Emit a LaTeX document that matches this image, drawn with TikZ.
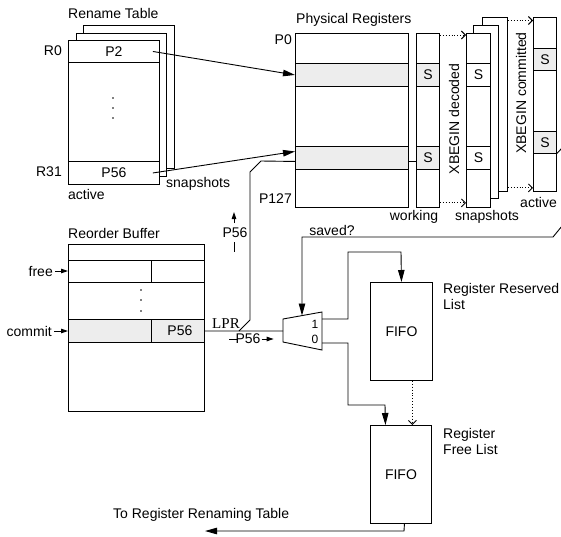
\documentclass[tikz,border=0pt]{standalone}
\usepackage{fontspec}
\setmainfont{Liberation Sans}
\newfontfamily\seriffont{Liberation Serif}
\usetikzlibrary{arrows.meta,calc}
\begin{document}
\begin{tikzpicture}[x=1pt,y=-1pt,
  every node/.style={font=\fontsize{14}{16}\selectfont},
  box/.style={draw, line width=0.9pt, inner sep=0pt, anchor=north west, fill=white},
  shade/.style={box, fill=black!7},
  lbl/.style={inner sep=0pt},
  ln/.style={line width=0.9pt},
  arr/.style={ln, -{Triangle[length=12pt,width=6.5pt]}},
  sarr/.style={ln, -{Triangle[length=7pt,width=4.5pt]}},
  darr/.style={ln, dotted, -{Straight Barb[length=4pt,width=8pt]}},
  dot/.style={circle, fill, inner sep=0pt, minimum size=1.6pt}
]
\useasboundingbox (0,0) rectangle (561,536);

% ---------------- Rename table ----------------
\node[lbl, anchor=west] (rtlbl) at (68,13) {Rename Table};
\node[box, minimum width=91pt, minimum height=143pt] (rt3) at (83,25) {};
\node[box, minimum width=90pt, minimum height=143pt] (rt2) at (76,33) {};
\node[box, minimum width=91pt, minimum height=144pt] (rt) at (68,40) {};
\node[box, minimum width=91pt, minimum height=22pt] (rtP2) at (68,40) {P2};
\node[box, minimum width=91pt, minimum height=23pt] (rtP56) at (68,161) {P56};
\node[dot] (rtd1) at (113,98) {};
\node[dot] (rtd2) at (113,108) {};
\node[dot] (rtd3) at (113,118) {};
\node[lbl, anchor=east] (r0) at (62,51) {R0};
\node[lbl, anchor=east] (r31) at (62,172) {R31};
\node[lbl, anchor=west] (rtact) at (68,194) {active};
\node[lbl, anchor=west] (rtsnap) at (166,184) {snapshots};

% ---------------- Physical registers ----------------
\node[lbl, anchor=west] (prlbl) at (296,20) {Physical Registers};
\node[box, minimum width=113pt, minimum height=174pt] (pr) at (295,33) {};
\node[shade, minimum width=113pt, minimum height=23pt] (prA) at (295,63) {};
\node[shade, minimum width=113pt, minimum height=23pt] (prB) at (295,146) {};
\node[lbl, anchor=east] (p0) at (292,40) {P0};
\node[lbl, anchor=east] (p127) at (292,199) {P127};

\node[box, minimum width=23pt, minimum height=174pt] (wk) at (416,33) {};
\node[shade, minimum width=23pt, minimum height=23pt] (wkA) at (416,63) {S};
\node[shade, minimum width=23pt, minimum height=23pt] (wkB) at (416,146) {S};
\node[lbl] (wklbl) at (414,217) {working};

\node[box, minimum width=25pt, minimum height=174pt] (ss3) at (482,17) {};
\node[box, minimum width=25pt, minimum height=173pt] (ss2) at (473,25) {};
\node[box, minimum width=24pt, minimum height=174pt] (ss) at (466,33) {};
\node[box, minimum width=24pt, minimum height=23pt] (ssA) at (466,63) {S};
\node[box, minimum width=24pt, minimum height=23pt] (ssB) at (466,146) {S};
\node[lbl] (sslbl) at (487,217) {snapshots};
\node[lbl, rotate=90] (xdec) at (454,119) {XBEGIN decoded};

\node[box, minimum width=23pt, minimum height=174pt] (ac) at (533,17) {};
\node[shade, minimum width=23pt, minimum height=22pt] (acA) at (533,48) {S};
\node[shade, minimum width=23pt, minimum height=22pt] (acB) at (533,131) {S};
\node[lbl, anchor=east] (aclbl) at (557,202) {active};
\node[lbl, rotate=90] (xcom) at (521,93) {XBEGIN committed};

% dotted snapshot arrows
\coordinate (wkT) at ([yshift=-2pt]wk.north east);
\coordinate (wkBt) at ([yshift=5pt]wk.south east);
\coordinate (ss3T) at ([yshift=-3.5pt]ss3.north east);
\coordinate (ss3B) at ([yshift=4pt]ss3.south east);
\draw[darr] (wkT) -- (wkT -| ss.west);
\draw[darr] (wkBt) -- (wkBt -| ss.west);
\draw[darr] (ss3T) -- (ss3T -| ac.west);
\draw[darr] (ss3B) -- (ss3B -| ac.west);

% rename -> physical
\draw[arr] ([xshift=-7pt]rtP2.east) -- (prA.west);
\draw[arr] ([xshift=-7pt]rtP56.east) -- ([yshift=6.5pt]prB.west);

% ---------------- Reorder buffer ----------------
\node[lbl, anchor=west] (roblbl) at (68,233) {Reorder Buffer};
\node[box, minimum width=136pt, minimum height=167pt] (rob) at (68,244) {};
\node[box, minimum width=83pt, minimum height=22pt] (robFL) at (68,260) {};
\node[box, minimum width=53pt, minimum height=22pt] (robFR) at (151,260) {};
\node[shade, minimum width=83pt, minimum height=23pt] (robCL) at (68,319) {};
\node[shade, minimum width=53pt, minimum height=23pt] (robCR) at (151,319) {\hspace*{4pt}P56};
\node[dot] (robd1) at (141,290) {};
\node[dot] (robd2) at (141,300) {};
\node[dot] (robd3) at (141,311) {};
\node[lbl, anchor=east] (free) at (53,271) {free};
\node[lbl, anchor=east] (commit) at (52,331) {commit};
\draw[sarr] ([xshift=2pt]free.east) -- (free.east -| robFL.west);
\draw[sarr] ([xshift=2pt]commit.east) -- (commit.east -| robCL.west);

% ---------------- Mux ----------------
\coordinate (muxin) at (283,331);
\coordinate (muxsel) at (302,315.5);
\coordinate (mux1) at (322,319);
\coordinate (mux0) at (322,343);
\draw[ln] (283,319) -- (322,312) -- (322,350) -- (283,342) -- cycle;
\node[lbl, font=\fontsize{12}{14}\selectfont] (m1) at (315,324) {1};
\node[lbl, font=\fontsize{12}{14}\selectfont] (m0) at (315,339) {0};

% LPR path
\coordinate (lprJ) at (239,331);
\draw[ln] (robCR.east) -- (muxin);
\draw[ln] (lprJ) -- (250,320) -- (250,172) -- (261,161) -- ([yshift=-3.5pt]prB.west);
\draw[ln] ([yshift=-3.5pt]prB.east) -- ([yshift=-3.5pt]wkB.west);
\node[lbl, font=\seriffont\fontsize{15}{17}\selectfont] (lpr) at (226,323.5) {LPR};

% P56 annotations
\node[lbl] (p56v) at (235,233) {P56};
\coordinate (p56vt) at (234,223);
\coordinate (p56vb) at (234,242);
\draw[sarr] (p56vt) -- ++(0,-11);
\draw[ln] (p56vb) -- ++(0,10);
\node[lbl] (p56h) at (248,339) {P56};
\draw[ln] ([xshift=-6pt]p56h.west) -- ([xshift=3pt]p56h.west);
\draw[sarr] ([xshift=1pt]p56h.east) -- ++(12,0);

% saved? line
\coordinate (offR1) at (562,148);
\coordinate (offR2) at (562,226);
\draw[ln] ([yshift=-11pt]acB.east) -- (offR1);
\draw[arr] (offR2) -- (553,237) -- (302,237) -- (muxsel);
\node[lbl] (saved) at (332,230) {saved?};

% ---------------- FIFOs ----------------
\node[box, minimum width=62pt, minimum height=98pt] (rrl) at (370,282) {FIFO};
\node[box, minimum width=61pt, minimum height=98pt] (rfl) at (370,425) {FIFO};
\node[lbl, anchor=north west, align=left] (rrllbl) at (443,283) {Register Reserved\\List};
\node[lbl, anchor=north west, align=left] (rfllbl) at (443,428) {Register\\Free List};

\draw[arr] (mux1) -- (348,319) -- (348,252) -- (401,252) -- (rrl.north);
\draw[arr] (mux0) -- (348,343) -- (348,405) -- (385,405) -- ([xshift=-15.5pt]rfl.north);
\draw[darr] ([xshift=11pt]rrl.south) -- ([xshift=11.5pt]rfl.north);

\node[lbl, anchor=west] (toRT) at (113,515) {To Register Renaming Table};
\coordinate (toRTend) at (205,531);
\draw[arr] ([xshift=3.5pt]rfl.south) -- (404,531) -- (toRTend);

\end{tikzpicture}
\end{document}
